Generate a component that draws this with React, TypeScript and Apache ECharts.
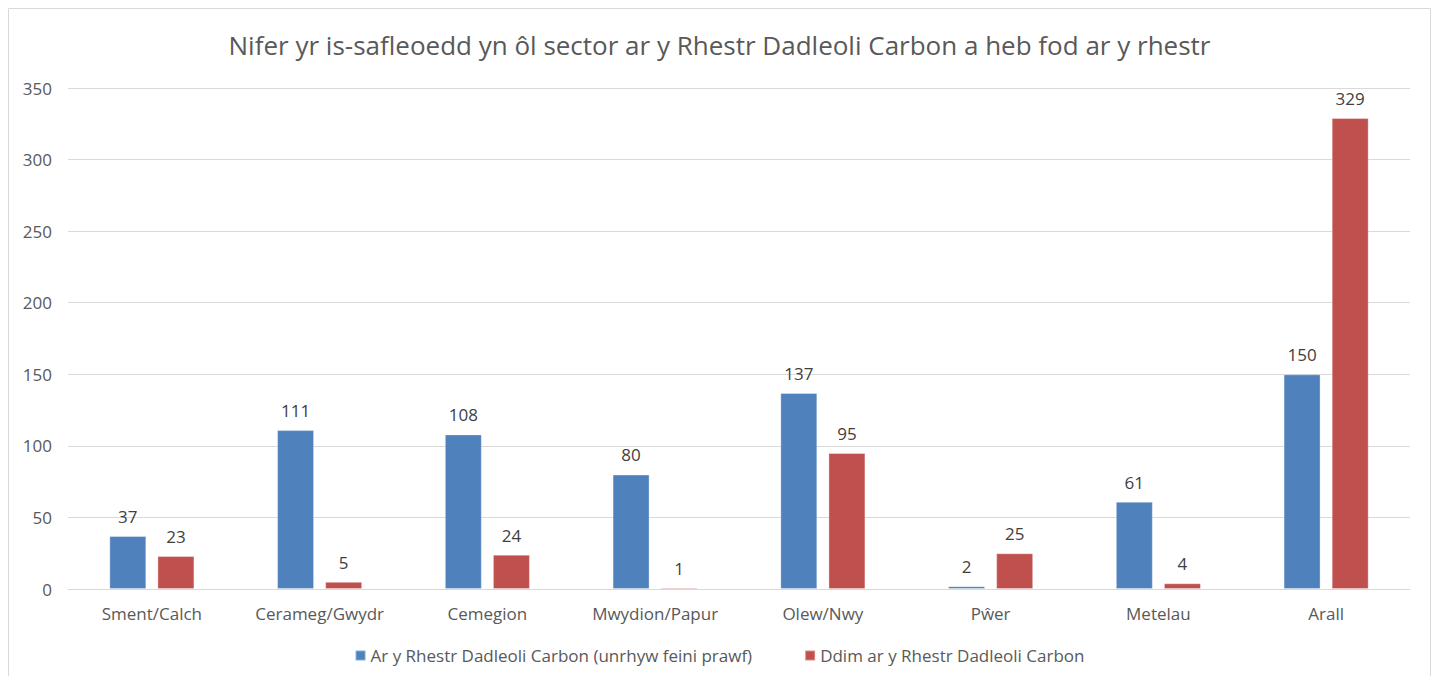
import React, { useEffect, useRef } from "react";
import * as echarts from "echarts";

const categories = ["Sment/Calch", "Cerameg/Gwydr", "Cemegion", "Mwydion/Papur", "Olew/Nwy", "Pŵer", "Metelau", "Arall"];
const onList = [37, 111, 108, 80, 137, 2, 61, 150];
const notOnList = [23, 5, 24, 1, 95, 25, 4, 329];
const seriesNames = ["Ar y Rhestr Dadleoli Carbon (unrhyw feini prawf)", "Ddim ar y Rhestr Dadleoli Carbon"];
const titleText = "Nifer yr is-safleoedd yn ôl sector ar y Rhestr Dadleoli Carbon a heb fod ar y rhestr";

const FONT = "Open Sans";

export default function App() {
  const ref = useRef<HTMLDivElement>(null);
  useEffect(() => {
    if (!ref.current) return;
    const chart = echarts.init(ref.current, undefined, { renderer: "svg" });
    const label = {
      show: true,
      position: "top" as const,
      distance: 11,
      color: "#404040",
      fontSize: 17,
      fontFamily: FONT,
    };
    chart.setOption({
      animation: false,
      backgroundColor: "#fff",
      graphic: [
        {
          type: "rect",
          shape: { x: 0.5, y: 0.5, width: 1422, height: 720 },
          style: { fill: "none", stroke: "#d9d9d9", lineWidth: 1 },
          silent: true,
        },
      ],
      title: {
        text: titleText,
        left: "center",
        top: 19,
        textStyle: { color: "#595959", fontSize: 26, fontWeight: "normal", fontFamily: FONT },
      },
      legend: {
        bottom: 7,
        left: "center",
        itemWidth: 10,
        itemHeight: 10,
        itemGap: 52,
        icon: "rect",
        textStyle: { color: "#595959", fontSize: 17, fontFamily: FONT },
        data: seriesNames,
      },
      grid: { left: 60, right: 21, top: 80, bottom: 87, containLabel: false },
      xAxis: {
        type: "category",
        data: categories,
        axisLine: { lineStyle: { color: "#d9d9d9" } },
        axisTick: { show: false },
        axisLabel: { color: "#595959", fontSize: 17, fontFamily: FONT, margin: 16 },
      },
      yAxis: {
        type: "value",
        min: 0,
        max: 350,
        interval: 50,
        axisLine: { show: false },
        axisTick: { show: false },
        splitLine: { lineStyle: { color: "#d9d9d9", width: 1 } },
        axisLabel: { color: "#595959", fontSize: 17, fontFamily: FONT, margin: 16 },
      },
      series: [
        {
          name: seriesNames[0],
          type: "bar",
          data: onList,
          barWidth: 37,
          barGap: "30%",
          itemStyle: { color: "#4F81BD", borderColor: "rgba(255,255,255,0.35)", borderWidth: 1 },
          label,
        },
        {
          name: seriesNames[1],
          type: "bar",
          data: notOnList,
          barWidth: 37,
          itemStyle: { color: "#C0504D", borderColor: "rgba(255,255,255,0.35)", borderWidth: 1 },
          label,
        },
      ],
    });
    return () => chart.dispose();
  }, []);
  return <div ref={ref} style={{ width: 1423, height: 668 }} />;
}
